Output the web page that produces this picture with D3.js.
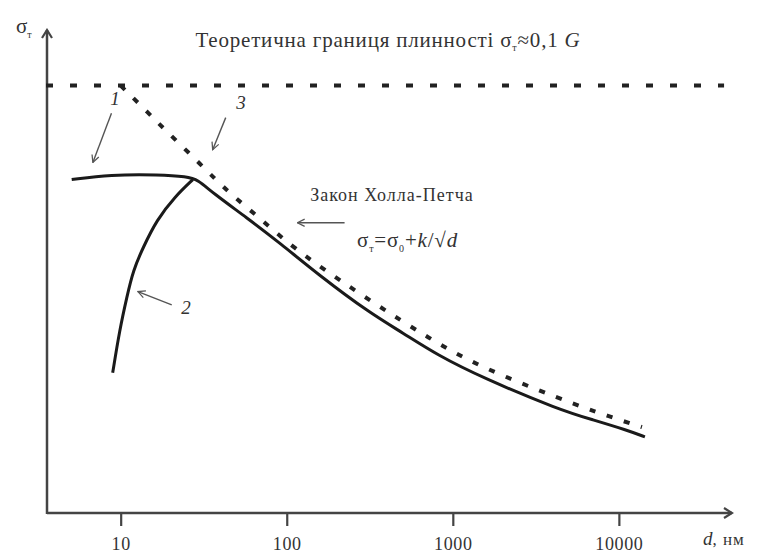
<!DOCTYPE html>
<html>
<head>
<meta charset="utf-8">
<script src="https://cdn.jsdelivr.net/npm/d3@7/dist/d3.min.js"></script>
<style>
  body { margin: 0; background: #fff; }
  svg text { font-family: 'Liberation Serif', 'Times New Roman', Times, 'DejaVu Serif', 'Noto Serif', serif; fill: #333; }
</style>
</head>
<body>
<div id="main"></div>
<script>
// grain size d (nm) on a log axis, yield stress in units of the theoretical limit
var x_ticks = [10, 100, 1000, 10000]
var limit_sigma = 1.0

// 3 - Hall-Petch extrapolation (dashed)
var hp_d = [10, 15, 17.9, 30.8, 44.1, 64.1, 93.3, 137.6, 325, 727, 1414, 4540, 8830, 13770]
var hp_s = [1.0, 0.932, 0.902, 0.813, 0.752, 0.700, 0.644, 0.5925, 0.494, 0.4075, 0.344, 0.265, 0.225, 0.201]

// 1 - real curve (solid)
var c1_d = [5.07, 8.58, 17.2, 25.0, 29.1, 35.8, 57.4, 90.7, 158, 316, 500, 802, 1517, 4420, 6970, 11170, 14350]
var c1_s = [0.780, 0.7916, 0.7916, 0.787, 0.780, 0.749, 0.691, 0.632, 0.555, 0.468, 0.4215, 0.370, 0.316, 0.241, 0.218, 0.194, 0.178]

// 2 - branch (solid)
var c2_d = [8.95, 9.86, 10.9, 11.9, 13.6, 16.5, 21.2, 27.2]
var c2_s = [0.328, 0.4286, 0.506, 0.568, 0.620, 0.686, 0.740, 0.780]

// annotation arrows [from d, from s, to d, to s]
var arrow_1 = [8.8, 0.935, 6.8, 0.82]
var arrow_3 = [42.9, 0.925, 35.8, 0.85]
var arrow_2 = [20.3, 0.487, 12.7, 0.518]
var arrow_hp = [223, 0.679, 116, 0.679]

var w = 760
var h = 556
var serif = "'Liberation Serif', 'Times New Roman', Times, 'DejaVu Serif', 'Noto Serif', serif"

var svg = d3.select('div#main').append('svg')
  .attr('width', w)
  .attr('height', h)
  .attr('viewBox', [0, 0, w, h].join(' '))
  .style('font-family', serif)

var scale_x = d3.scaleLog().domain([3.6, 48000]).range([47, 732])
var scale_y = d3.scaleLinear().domain([0, 1.13]).range([513, 30])

var defs = svg.append('defs')
defs.append('marker')
  .attr('id', 'axis_arrow')
  .attr('viewBox', '0 0 12 12')
  .attr('refX', 10).attr('refY', 6)
  .attr('markerWidth', 12).attr('markerHeight', 12)
  .attr('markerUnits', 'userSpaceOnUse')
  .attr('orient', 'auto')
  .append('path')
  .attr('d', 'M2,1 L10,6 L2,11')
  .attr('fill', 'none')
  .attr('stroke', '#444')
  .attr('stroke-width', 2.2)

defs.append('marker')
  .attr('id', 'note_arrow')
  .attr('viewBox', '0 0 10 10')
  .attr('refX', 9).attr('refY', 5)
  .attr('markerWidth', 9).attr('markerHeight', 9)
  .attr('markerUnits', 'userSpaceOnUse')
  .attr('orient', 'auto')
  .append('path')
  .attr('d', 'M1,1 L9,5 L1,9')
  .attr('fill', 'none')
  .attr('stroke', '#555')
  .attr('stroke-width', 1.4)

// axes
var x0 = scale_x.range()[0]
var y0 = scale_y.range()[0]
svg.append('line')
  .attr('x1', x0).attr('y1', y0)
  .attr('x2', scale_x.range()[1]).attr('y2', y0)
  .attr('stroke', '#444').attr('stroke-width', 2.5)
  .attr('marker-end', 'url(#axis_arrow)')
svg.append('line')
  .attr('x1', x0).attr('y1', y0 + 1)
  .attr('x2', x0).attr('y2', scale_y.range()[1])
  .attr('stroke', '#444').attr('stroke-width', 2.5)
  .attr('marker-end', 'url(#axis_arrow)')

var x_axis = d3.axisBottom(scale_x)
  .tickValues(x_ticks)
  .tickFormat(d3.format('d'))
  .tickSize(12)
  .tickPadding(11)
var gx = svg.append('g')
  .attr('transform', 'translate(0,' + (y0 + 1) + ')')
  .call(x_axis)
gx.attr('font-family', null).attr('font-size', null)
gx.select('.domain').remove()
gx.selectAll('.tick line').attr('stroke', '#444').attr('stroke-width', 2.2)
gx.selectAll('.tick text')
  .style('font-size', '18px')
  .style('letter-spacing', '0.6px')
  .attr('fill', '#333')

// axis labels
var ylab = svg.append('text').attr('x', 16).attr('y', 33).style('font-size', '21px')
ylab.append('tspan').text('σ')
ylab.append('tspan').attr('dy', 5).style('font-size', '10px').text('т')

var xlab = svg.append('text').attr('x', 703).attr('y', 545).style('font-size', '19px')
xlab.append('tspan').style('font-style', 'italic').text('d')
xlab.append('tspan').style('font-size', '17px').style('letter-spacing', '1px').text(', нм')

// theoretical limit
svg.append('line')
  .attr('x1', x0 - 1).attr('y1', scale_y(limit_sigma))
  .attr('x2', scale_x(43000)).attr('y2', scale_y(limit_sigma))
  .attr('stroke', '#222').attr('stroke-width', 4)
  .attr('stroke-dasharray', '7,17')

var title = svg.append('text')
  .attr('x', 388).attr('y', 47)
  .attr('text-anchor', 'middle')
  .style('font-size', '21px')
  .style('letter-spacing', '0.8px')
title.append('tspan').text('Теоретична границя плинності σ')
title.append('tspan').attr('dy', 4).style('font-size', '10px').text('т')
title.append('tspan').attr('dy', -4).text('≈0,1 ')
title.append('tspan').style('font-style', 'italic').text('G')

function zip (ds, ss) {
  return ds.map(function (d, i) { return [d, ss[i]] })
}

var line = d3.line()
  .x(function (p) { return scale_x(p[0]) })
  .y(function (p) { return scale_y(p[1]) })
  .curve(d3.curveBasis)

svg.append('path')
  .attr('d', line(zip(hp_d, hp_s)))
  .attr('fill', 'none')
  .attr('stroke', '#222')
  .attr('stroke-width', 4)
  .attr('stroke-dasharray', '6,12')

svg.append('path')
  .attr('d', line(zip(c1_d, c1_s)))
  .attr('fill', 'none')
  .attr('stroke', '#1a1a1a')
  .attr('stroke-width', 3)

svg.append('path')
  .attr('d', line(zip(c2_d, c2_s)))
  .attr('fill', 'none')
  .attr('stroke', '#1a1a1a')
  .attr('stroke-width', 3)

// annotations
function note_arrow (a) {
  svg.append('line')
    .attr('x1', scale_x(a[0])).attr('y1', scale_y(a[1]))
    .attr('x2', scale_x(a[2])).attr('y2', scale_y(a[3]))
    .attr('stroke', '#555')
    .attr('stroke-width', 1.4)
    .attr('marker-end', 'url(#note_arrow)')
}
note_arrow(arrow_1)
note_arrow(arrow_3)
note_arrow(arrow_2)
note_arrow(arrow_hp)

function curve_label (txt, x, y) {
  svg.append('text')
    .attr('x', x).attr('y', y)
    .attr('text-anchor', 'middle')
    .style('font-size', '19px')
    .style('font-style', 'italic')
    .text(txt)
}
curve_label('1', 115, 105)
curve_label('3', 241, 109)
curve_label('2', 186, 314)

svg.append('text')
  .attr('x', 392).attr('y', 201)
  .attr('text-anchor', 'middle')
  .style('font-size', '18px')
  .style('letter-spacing', '1px')
  .text('Закон Холла-Петча')

var formula = svg.append('text').attr('x', 357).attr('y', 247)
  .style('font-size', '21px')
  .style('letter-spacing', '0.8px')
formula.append('tspan').text('σ')
formula.append('tspan').attr('dy', 5).style('font-size', '10px').text('т')
formula.append('tspan').attr('dy', -5).text('=σ')
formula.append('tspan').attr('dy', 5).style('font-size', '10px').text('0')
formula.append('tspan').attr('dy', -5).text('+')
formula.append('tspan').style('font-style', 'italic').text('k')
formula.append('tspan').text('/√')
formula.append('tspan').style('font-style', 'italic').text('d')
</script>
</body>
</html>
